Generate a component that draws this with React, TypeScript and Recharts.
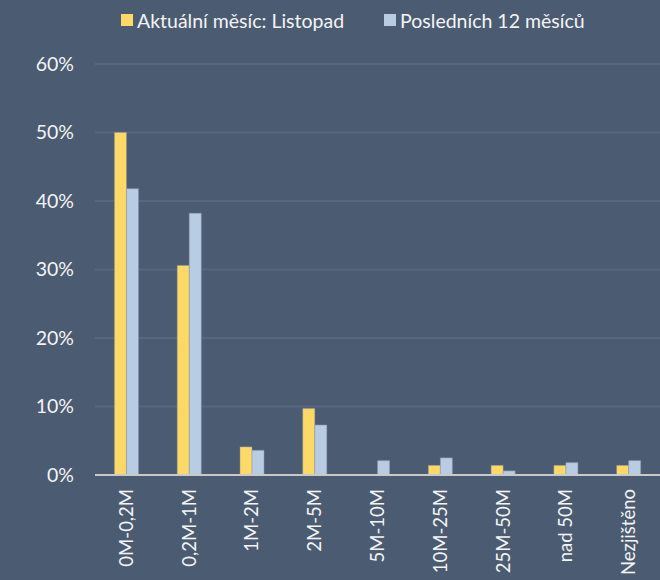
import React from 'react';
import { BarChart, Bar, XAxis, YAxis, CartesianGrid, Legend } from 'recharts';

// Palette
const COLORS = {
  background: '#4b5b72',
  grid: '#56677f',
  axis: '#c9c9c9',
  text: '#f4f4f4',
  current: '#ffd966',
  last12: '#b8cce4',
  barStroke: '#8e99a8',
};

const FONT = 'Lato, "Noto Sans", sans-serif';

const categories = ['0M-0,2M', '0,2M-1M', '1M-2M', '2M-5M', '5M-10M', '10M-25M', '25M-50M', 'nad 50M', 'Nezjištěno'];
const currentMonth = [50, 30.6, 4.1, 9.7, 0, 1.4, 1.4, 1.4, 1.4];
const last12Months = [41.8, 38.2, 3.6, 7.3, 2.1, 2.5, 0.6, 1.8, 2.1];
const yTicks = [0, 10, 20, 30, 40, 50, 60];

const seriesNames = {
  current: 'Aktuální měsíc: Listopad',
  last12: 'Posledních 12 měsíců',
};

const data = categories.map((name, i) => ({
  name,
  current: currentMonth[i],
  last12: last12Months[i],
}));

function XTick({ x, y, payload }: any) {
  return (
    <text
      x={x}
      y={y}
      transform={`rotate(-90, ${x}, ${y})`}
      textAnchor="end"
      dy="0.35em"
      fill={COLORS.text}
      fontSize={18.5}
      fontFamily={FONT}
    >
      {payload.value}
    </text>
  );
}

function renderLegend() {
  const items = [
    { label: seriesNames.current, color: COLORS.current },
    { label: seriesNames.last12, color: COLORS.last12 },
  ];
  return (
    <div
      style={{
        height: 40,
        display: 'flex',
        alignItems: 'center',
        paddingLeft: 121,
        gap: 40,
        fontFamily: FONT,
        fontSize: 19.5,
        color: COLORS.text,
      }}
    >
      {items.map((it) => (
        <div key={it.label} style={{ display: 'flex', alignItems: 'center' }}>
          <span style={{ width: 12, height: 12, background: it.color, marginRight: 4, display: 'inline-block' }} />
          <span>{it.label}</span>
        </div>
      ))}
    </div>
  );
}

export default function App() {
  return (
    <div style={{ position: 'absolute', left: 0, top: 0, width: 660, height: 580, background: COLORS.background }}>
      <BarChart
        width={660}
        height={580}
        data={data}
        margin={{ top: 24, right: 0, left: 0, bottom: 0 }}
        barCategoryGap="31%"
        barGap={0}
      >
        <CartesianGrid vertical={false} stroke={COLORS.grid} strokeWidth={2} />
        <XAxis
          dataKey="name"
          interval={0}
          height={105}
          tick={<XTick />}
          tickLine={false}
          tickSize={0}
          tickMargin={14}
          axisLine={{ stroke: COLORS.axis, strokeWidth: 2 }}
        />
        <YAxis
          domain={[0, 60]}
          ticks={yTicks}
          width={95}
          tickFormatter={(v: number) => `${v}%`}
          tick={{ fill: COLORS.text, fontSize: 19.5, fontFamily: FONT }}
          tickLine={false}
          tickSize={0}
          tickMargin={21}
          axisLine={false}
        />
        <Legend
          verticalAlign="top"
          content={renderLegend}
          wrapperStyle={{ top: 0, left: 0, width: 660 }}
        />
        <Bar dataKey="current" name={seriesNames.current} fill={COLORS.current} stroke={COLORS.barStroke} strokeWidth={0.5} isAnimationActive={false} />
        <Bar dataKey="last12" name={seriesNames.last12} fill={COLORS.last12} stroke={COLORS.barStroke} strokeWidth={0.5} isAnimationActive={false} />
      </BarChart>
    </div>
  );
}
